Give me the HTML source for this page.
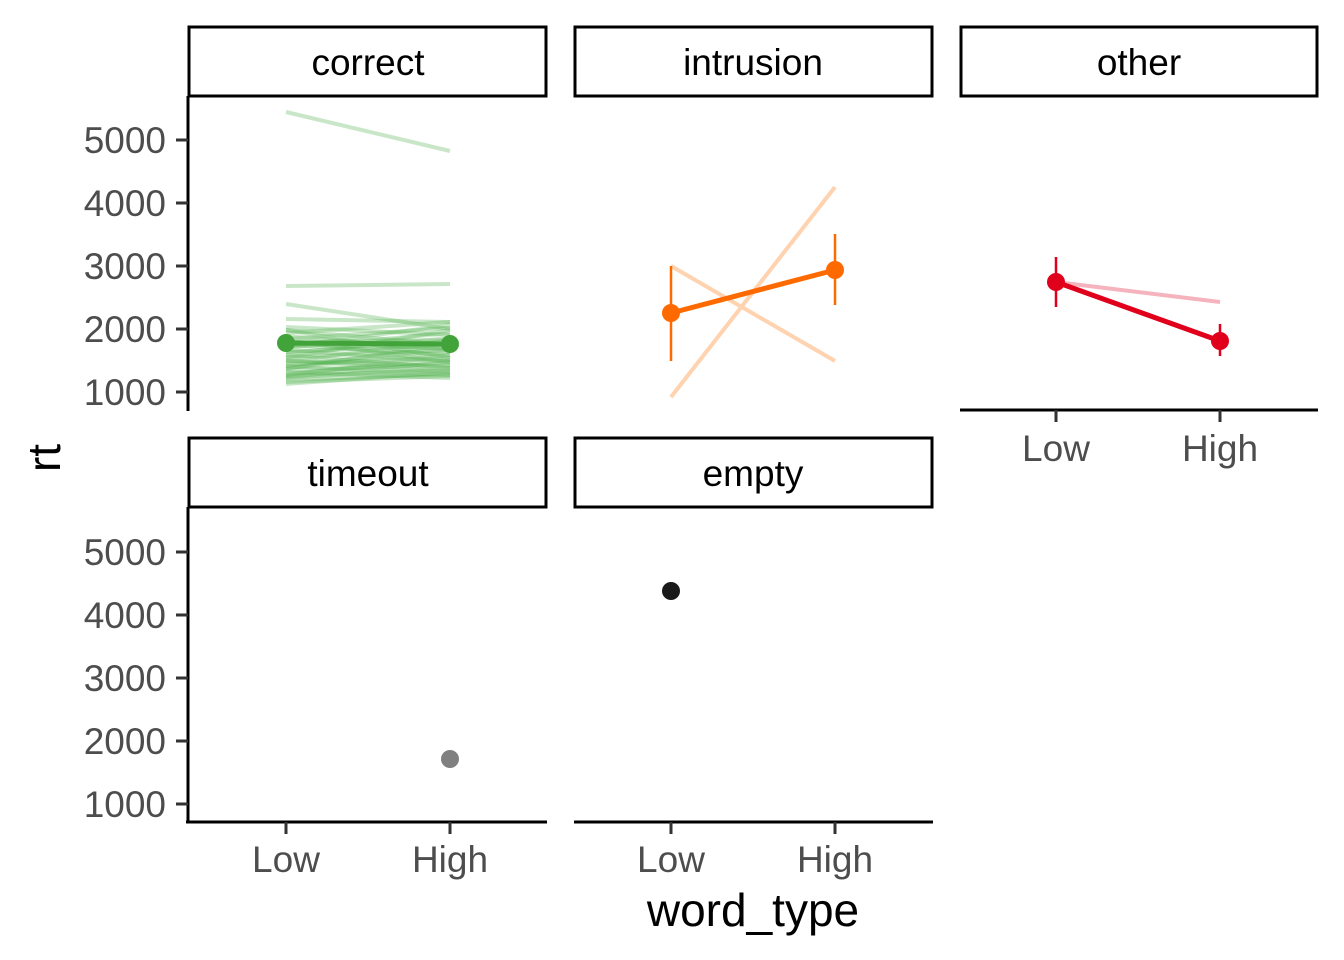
<!DOCTYPE html>
<html><head><style>body{margin:0;background:#fff}svg{display:block}text{font-family:"Liberation Sans",sans-serif}</style></head>
<body>
<svg width="1344" height="960" viewBox="0 0 1344 960" xmlns="http://www.w3.org/2000/svg">
<g fill="#fff" stroke="#000" stroke-width="3">
<rect x="189" y="27" width="357" height="69"/>
<rect x="575" y="27" width="357" height="69"/>
<rect x="961" y="27" width="356" height="69"/>
<rect x="189" y="438" width="357" height="69"/>
<rect x="575" y="438" width="357" height="69"/>
</g>
<g font-size="37" text-anchor="middle" fill="#000">
<text x="368" y="75">correct</text>
<text x="753" y="75">intrusion</text>
<text x="1139" y="75">other</text>
<text x="368" y="486">timeout</text>
<text x="753" y="486">empty</text>
</g>
<!-- correct lines -->
<g stroke="#4daf4a" stroke-opacity="0.3" stroke-width="4" fill="none">
<line x1="286" y1="112" x2="450" y2="151"/>
<line x1="286" y1="286" x2="450" y2="284"/>
<line x1="286" y1="304" x2="450" y2="329"/>
<line x1="286" y1="319" x2="450" y2="322"/>
<line x1="286" y1="327" x2="450" y2="335"/><line x1="286" y1="330" x2="450" y2="345"/><line x1="286" y1="333" x2="450" y2="322"/><line x1="286" y1="336" x2="450" y2="350"/><line x1="286" y1="339" x2="450" y2="328"/><line x1="286" y1="342" x2="450" y2="340"/><line x1="286" y1="345" x2="450" y2="355"/><line x1="286" y1="348" x2="450" y2="333"/><line x1="286" y1="350" x2="450" y2="362"/><line x1="286" y1="352" x2="450" y2="345"/><line x1="286" y1="355" x2="450" y2="368"/><line x1="286" y1="357" x2="450" y2="350"/><line x1="286" y1="360" x2="450" y2="372"/><line x1="286" y1="362" x2="450" y2="340"/><line x1="286" y1="364" x2="450" y2="358"/><line x1="286" y1="366" x2="450" y2="375"/><line x1="286" y1="368" x2="450" y2="352"/><line x1="286" y1="370" x2="450" y2="365"/><line x1="286" y1="372" x2="450" y2="378"/><line x1="286" y1="374" x2="450" y2="360"/><line x1="286" y1="376" x2="450" y2="370"/><line x1="286" y1="378" x2="450" y2="368"/><line x1="286" y1="380" x2="450" y2="374"/><line x1="286" y1="382" x2="450" y2="376"/><line x1="286" y1="384" x2="450" y2="372"/><line x1="286" y1="330" x2="450" y2="358"/><line x1="286" y1="347" x2="450" y2="325"/><line x1="286" y1="358" x2="450" y2="330"/><line x1="286" y1="366" x2="450" y2="348"/><line x1="286" y1="375" x2="450" y2="355"/><line x1="286" y1="340" x2="450" y2="362"/><line x1="286" y1="353" x2="450" y2="338"/><line x1="286" y1="369" x2="450" y2="343"/><line x1="286" y1="361" x2="450" y2="366"/><line x1="286" y1="377" x2="450" y2="362"/><line x1="286" y1="344" x2="450" y2="348"/>
</g>
<line x1="286" y1="343" x2="450" y2="344" stroke="#41a33a" stroke-width="5"/>
<circle cx="286" cy="343" r="9" fill="#41a33a"/><circle cx="450" cy="344" r="9" fill="#41a33a"/>
<!-- intrusion -->
<g stroke="#ffd2b0" stroke-width="4"><line x1="671" y1="397" x2="835" y2="187"/><line x1="671" y1="266" x2="835" y2="361"/></g>
<g stroke="#ff6a00"><line x1="671" y1="266" x2="671" y2="361" stroke-width="2.5"/><line x1="835" y1="234" x2="835" y2="305" stroke-width="2.5"/><line x1="671" y1="313" x2="835" y2="270" stroke-width="5"/></g>
<circle cx="671" cy="313" r="9" fill="#ff6a00"/><circle cx="835" cy="270" r="9" fill="#ff6a00"/>
<!-- other -->
<line x1="1056" y1="282" x2="1220" y2="302" stroke="#f5b3bd" stroke-width="4"/>
<g stroke="#e0001b"><line x1="1056" y1="257" x2="1056" y2="307" stroke-width="2.5"/><line x1="1220" y1="324" x2="1220" y2="356" stroke-width="2.5"/><line x1="1056" y1="282" x2="1220" y2="341" stroke-width="5"/></g>
<circle cx="1056" cy="282" r="9" fill="#e0001b"/><circle cx="1220" cy="341" r="9" fill="#e0001b"/>
<circle cx="450" cy="759" r="9" fill="#808080"/>
<circle cx="671" cy="591" r="9" fill="#1a1a1a"/>
<!-- axes -->
<g stroke="#000" stroke-width="3" fill="none">
<line x1="188" y1="96" x2="188" y2="411"/>
<line x1="188" y1="507" x2="188" y2="823"/>
<line x1="186" y1="822" x2="547" y2="822"/>
<line x1="574" y1="822" x2="933" y2="822"/>
<line x1="960" y1="410" x2="1318" y2="410"/>
</g>
<g stroke="#333" stroke-width="3">
<path d="M176 140H188M176 203H188M176 266H188M176 329H188M176 392H188"/>
<path d="M176 552H188M176 615H188M176 678H188M176 741H188M176 804H188"/>
<path d="M286 822V834M450 822V834M671 822V834M835 822V834M1056 410V422M1220 410V422"/>
</g>
<g font-size="37" fill="#4d4d4d" text-anchor="end">
<text x="166" y="153">5000</text><text x="166" y="216">4000</text><text x="166" y="279">3000</text><text x="166" y="342">2000</text><text x="166" y="405">1000</text>
<text x="166" y="565">5000</text><text x="166" y="628">4000</text><text x="166" y="691">3000</text><text x="166" y="754">2000</text><text x="166" y="817">1000</text>
</g>
<g font-size="37" fill="#4d4d4d" text-anchor="middle">
<text x="286" y="872">Low</text><text x="450" y="872">High</text>
<text x="671" y="872">Low</text><text x="835" y="872">High</text>
<text x="1056" y="461">Low</text><text x="1220" y="461">High</text>
</g>
<text x="753" y="926" font-size="46" text-anchor="middle" fill="#000">word_type</text>
<text transform="translate(60,458) rotate(-90)" font-size="46" text-anchor="middle" fill="#000">rt</text>
</svg>
</body></html>
